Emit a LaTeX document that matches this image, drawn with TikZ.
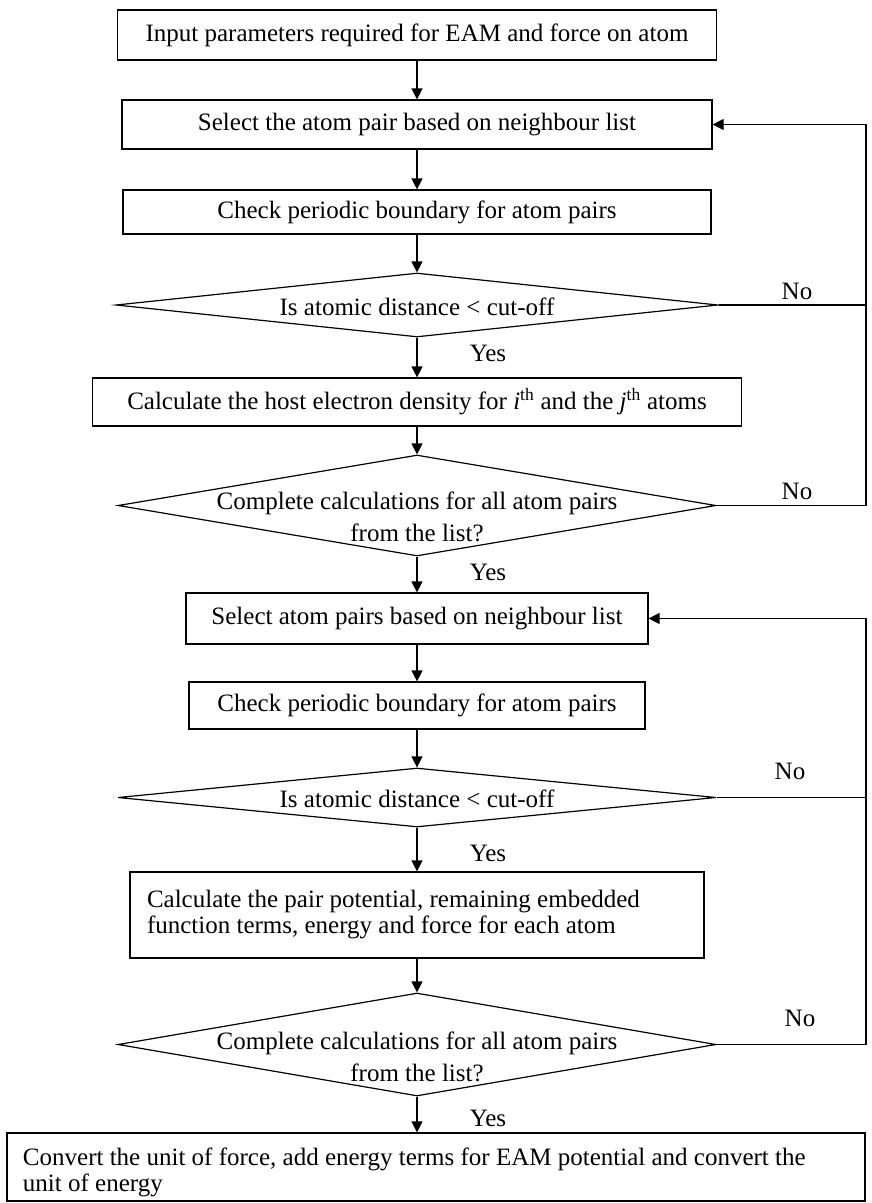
\documentclass[tikz,border=0pt]{standalone}
\usepackage{fontspec}
\setmainfont{Liberation Serif}
\usetikzlibrary{arrows.meta,shapes.geometric}
\begin{document}
\begin{tikzpicture}[x=1pt,y=-1pt,
  every node/.style={font=\fontsize{25}{26}\selectfont},
  box/.style={draw, line width=1.2pt, inner sep=0pt, align=center},
  dia/.style={draw, diamond, line width=1.2pt, inner sep=0pt},
  txt/.style={inner sep=0pt, align=center},
  lbl/.style={inner sep=0pt},
  flow/.style={line width=1.2pt, -{Triangle[length=11pt,width=11pt]}},
  plain/.style={line width=1.2pt}]
\useasboundingbox (0,0) rectangle (872,1203);

\node[box, minimum width=599pt, minimum height=50pt] (b1) at (417,35) {Input parameters required for EAM and force on atom};
\node[box, minimum width=590pt, minimum height=49pt] (b2) at (417,124.5) {Select the atom pair based on neighbour list};
\node[box, minimum width=588pt, minimum height=44pt] (b3) at (417,212) {Check periodic boundary for atom pairs};
\node[dia, minimum width=602pt, minimum height=64pt] (d1) at (417,305) {};
\node[txt] (t1) at (417,307) {Is atomic distance < cut-off};
\node[box, minimum width=649pt, minimum height=48pt] (b4) at (417,402) {Calculate the host electron density for \textit{i}\textsuperscript{th} and the \textit{j}\textsuperscript{th} atoms};
\node[dia, minimum width=598pt, minimum height=101pt] (d2) at (417,505.5) {};
\node[txt, font=\fontsize{25}{32}\selectfont] (t2) at (417,517) {Complete calculations for all atom pairs\\from the list?};
\node[box, minimum width=462pt, minimum height=51pt] (b5) at (417,618.5) {Select atom pairs based on neighbour list};
\node[box, minimum width=456pt, minimum height=47pt] (b6) at (417,705.5) {Check periodic boundary for atom pairs};
\node[dia, minimum width=598pt, minimum height=59pt] (d3) at (417,797.5) {};
\node[txt] (t3) at (417,799) {Is atomic distance < cut-off};
\node[box, minimum width=574pt, minimum height=86pt, text width=540pt, align=flush left] (b7) at (417,915) {Calculate the pair potential, remaining embedded\\function terms, energy and force for each atom};
\node[dia, minimum width=598pt, minimum height=103pt] (d4) at (417,1044.5) {};
\node[txt, font=\fontsize{25}{32}\selectfont] (t4) at (417,1057) {Complete calculations for all atom pairs\\from the list?};
\node[box, minimum width=858pt, minimum height=68pt, text width=826pt, align=flush left, text depth=21pt] (b8) at (436,1167) {Convert the unit of force, add energy terms for EAM potential and convert the\\unit of energy};

\draw[flow] (b1) -- (b2);
\draw[flow] (b2) -- (b3);
\draw[flow] (b3) -- (d1);
\draw[flow] (d1) -- (b4);
\draw[flow] (b4) -- (d2);
\draw[flow] (d2) -- (b5);
\draw[flow] (b5) -- (b6);
\draw[flow] (b6) -- (d3);
\draw[flow] (d3) -- (b7);
\draw[flow] (b7) -- (d4);
\draw[flow] (d4.south) -- (d4.south |- b8.north);

\coordinate (r1) at (866,124.5);
\draw[plain] (d1.east) -- (d1.east -| r1);
\draw[flow] (d2.east) -- (d2.east -| r1) -- (r1) -- (b2.east);
\coordinate (r2) at (866,618.5);
\draw[plain] (d3.east) -- (d3.east -| r2);
\draw[flow] (d4.east) -- (d4.east -| r2) -- (r2) -- (b5.east);

\node[lbl] (n1) at (797,291) {No};
\node[lbl] (n2) at (797,491) {No};
\node[lbl] (n3) at (790,771) {No};
\node[lbl] (n4) at (800,1018) {No};
\node[lbl] (y1) at (488,353) {Yes};
\node[lbl] (y2) at (488,572) {Yes};
\node[lbl] (y3) at (488,853) {Yes};
\node[lbl] (y4) at (488,1118) {Yes};
\end{tikzpicture}
\end{document}
